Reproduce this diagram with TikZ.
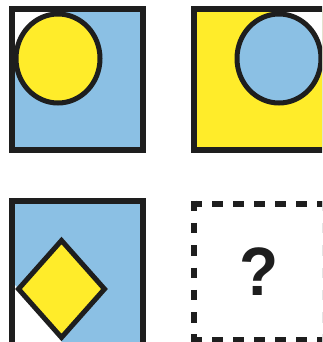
\documentclass[tikz,border=0pt]{standalone}
\usepackage{graphicx}
\usepackage{fontspec}
\setmainfont{Liberation Sans}
\usetikzlibrary{positioning}
\definecolor{tileblue}{HTML}{8BC0E4}
\definecolor{tileyellow}{HTML}{FFEC2A}
\definecolor{ink}{HTML}{1E1E1E}

\begin{document}
\begin{tikzpicture}[x=1pt, y=-1pt,
    tile/.style={draw=ink, line width=6pt},
    figure/.style={draw=ink, line width=5pt},
    dashtile/.style={draw=ink, line width=6pt, dash pattern=on 11pt off 10pt},
    dashside/.style={dashtile, dash pattern=on 10.5pt off 11.8pt}
]

\useasboundingbox (0,0) rectangle (322,342);
\clip (0,0) rectangle (322,342);

% --- Arriba a la izquierda: cuadro azul, circulo amarillo ---
\fill[tileblue] (12,9) rectangle (143,150);
\fill[white] (12,9) rectangle (58,58.5);
\draw[figure, fill=tileyellow] (58,58.5) ellipse [x radius=42, y radius=44.5];
\draw[tile] (12,9) rectangle (143,150);

% --- Arriba a la derecha: cuadro amarillo, circulo azul ---
\fill[tileyellow] (194,9) rectangle (325,150);
\fill[white] (279,9) rectangle (325,58.5);
\draw[figure, fill=tileblue] (279,58.5) ellipse [x radius=42, y radius=44.5];
\draw[tile] (194,9) rectangle (325,150);

% --- Abajo a la izquierda: cuadro azul, rombo amarillo ---
\fill[tileblue] (12,201) rectangle (143,350);
\fill[white] (12,281.7) -- (61.5,337) -- (61.5,350) -- (12,350) -- cycle;
\draw[figure, line join=miter, fill=tileyellow]
    (61.5,240.5) -- (104.5,289) -- (61.5,337.5) -- (18.5,289) -- cycle;
\draw[tile] (12,201) rectangle (143,350);

% --- Abajo a la derecha: cuadro punteado con la pregunta ---
\draw[dashtile] (191,203.6) -- (325,203.6);
\draw[dashtile] (191,340) -- (325,340);
\draw[dashside] (194,200.6) -- (194,343);
\draw[dashside] (325,200.6) -- (325,343);
\node[inner sep=0pt, text=ink, font=\bfseries\fontsize{64}{64}\selectfont]
    (query) at (259.5,272) {\scalebox{1}[1.07]{?}};

\end{tikzpicture}
\end{document}
